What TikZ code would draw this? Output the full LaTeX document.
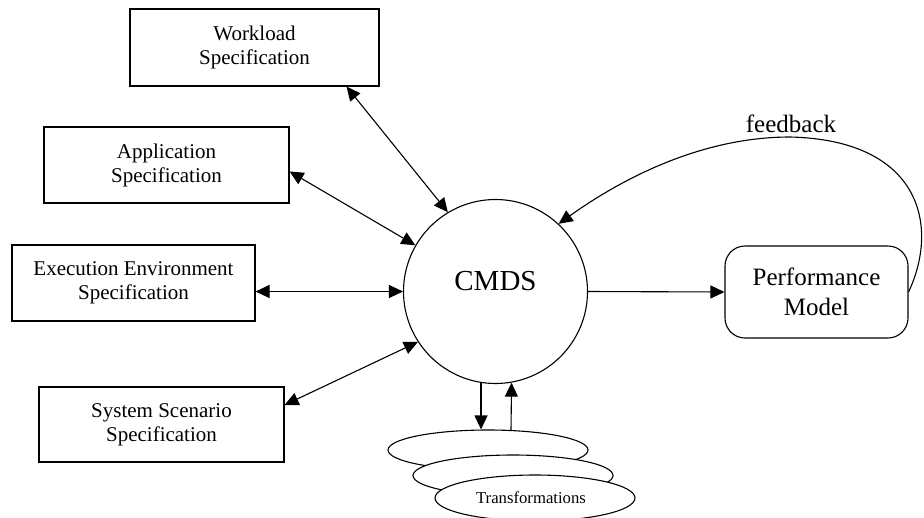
\documentclass[tikz,border=0pt]{standalone}
\usepackage{fontspec}
\setmainfont{Liberation Serif}
\usetikzlibrary{arrows.meta,shapes.geometric,calc}
\begin{document}
\begin{tikzpicture}[x=1pt,y=-1pt, line width=1.1pt,
  >={Triangle[length=14pt,width=13pt]},
  spec/.style={draw, rectangle, inner sep=0pt, align=center,
    font=\fontsize{21pt}{24pt}\selectfont},
  hub/.style={draw, circle, inner sep=0pt, minimum size=184pt},
  model/.style={draw, rectangle, rounded corners=20pt, inner sep=0pt, align=center,
    minimum width=183pt, minimum height=92pt, font=\fontsize{25pt}{30pt}\selectfont},
  trans/.style={draw, ellipse, fill=white, inner sep=0pt, minimum width=200pt,
    font=\fontsize{16.7pt}{20pt}\selectfont},
  conn/.style={line width=1.1pt}]
\useasboundingbox (0,0) rectangle (924,517);

\node[spec, minimum width=249pt, minimum height=77pt] (work) at (254.5,47.5) {Workload\\Specification};
\node[spec, minimum width=245pt, minimum height=76pt] (app) at (166.5,165) {Application\\Specification};
\node[spec, minimum width=243pt, minimum height=76pt] (exec) at (133.5,283) {Execution Environment\\Specification};
\node[spec, minimum width=245pt, minimum height=75pt] (sys) at (161.5,424.5) {System Scenario\\Specification};

\node[hub] (cmds) at (495.5,291.5) {};
\node[font=\fontsize{29pt}{34pt}\selectfont, inner sep=0pt] (cmdslabel) at (495.5,281) {CMDS};

\node[model] (perf) at (816.5,292) {Performance\\Model};

\node[trans, minimum height=40pt] (e1) at (488,450) {};
\node[trans, minimum height=41pt] (e2) at (513,475.5) {};
\node[trans, minimum height=46pt] (e3) at (535,498) {};
\node[font=\fontsize{16.7pt}{20pt}\selectfont, inner sep=0pt] (tlabel) at (531,498) {Transformations};

\draw[conn,<->] (work.-23.6) -- (cmds.121.8);
\draw[conn,<->] (app.-3.7) -- (cmds.150.5);
\draw[conn,<->] (exec.east |- cmds.west) -- (cmds.west);
\draw[conn,<->] (sys.9.1) -- (cmds.-147.2);
\draw[conn,->] (cmds.east) -- (perf.west);

\draw[conn,->] (cmds.-99.1) -- (cmds.-99.1 |- e1.north);
\draw[conn,->] ($(e1.north)+(23,0.5)$) -- (cmds.-80.3);

\draw[conn,->] (perf.east) .. controls (940,225) and (920,140) .. (790,137)
  .. controls (700,137) and (620,180) .. (cmds.47.2);
\node[font=\fontsize{25pt}{30pt}\selectfont, inner sep=0pt] (fb) at (791,124) {feedback};
\end{tikzpicture}
\end{document}
